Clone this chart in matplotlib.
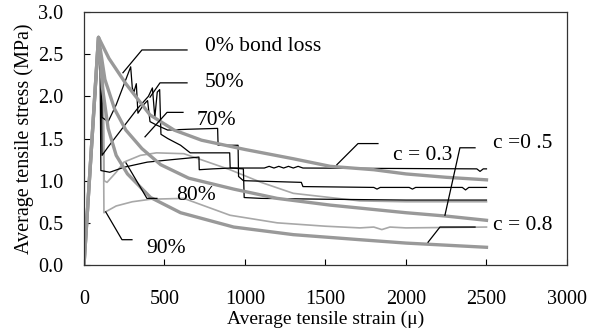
import matplotlib
matplotlib.use("Agg")
import matplotlib.pyplot as plt

plt.rcParams['font.family'] = ['Liberation Serif', 'DejaVu Serif']

# model curves (thick grey), c = 0.3 / 0.5 / 0.8
c03_strain = [0, 90, 155, 260, 410, 560, 730, 1000, 1300, 1530, 1800, 2000, 2250, 2500]
c03_stress = [0, 2.70, 2.45, 2.15, 1.78, 1.60, 1.48, 1.37, 1.26, 1.17, 1.13, 1.08, 1.04, 1.01]
c05_strain = [0, 90, 130, 190, 260, 360, 476, 650, 930, 1200, 1530, 2000, 2250, 2500]
c05_stress = [0, 2.70, 2.20, 1.85, 1.60, 1.38, 1.19, 1.03, 0.90, 0.79, 0.71, 0.62, 0.58, 0.53]
c08_strain = [0, 90, 115, 150, 200, 270, 414, 600, 930, 1300, 1714, 2000, 2500]
c08_stress = [0, 2.70, 2.10, 1.62, 1.30, 1.08, 0.80, 0.62, 0.45, 0.36, 0.30, 0.26, 0.21]

# analysis, 0 / 50 / 70 % bond loss (thin black)
b00_strain = [0, 90, 105, 112, 150, 200, 250, 290, 300, 310, 325, 335, 370, 395, 410, 450,
              520, 650, 830, 833, 957, 960, 990, 1350, 1360, 1800, 1820, 1840, 2020, 2040,
              2060, 2350, 2370, 2390, 2500]
b00_stress = [0, 2.65, 2.55, 1.75, 1.70, 1.90, 2.15, 2.35, 2.10, 2.05, 2.15, 1.80, 1.90, 1.95, 1.70, 1.66,
              1.60, 1.61, 1.62, 1.42, 1.42, 1.05, 1.00, 0.98, 0.93, 0.92, 0.90, 0.92, 0.92, 0.90,
              0.92, 0.92, 0.89, 0.92, 0.92]
b50_strain = [0, 90, 108, 112, 150, 250, 330, 400, 425, 440, 455, 470, 478, 520, 600, 660, 905, 908,
              1000, 1120, 1150, 1180, 1210, 1240, 1270, 1300, 1330, 1360, 2440, 2460, 2480, 2500]
b50_stress = [0, 2.60, 2.40, 1.30, 1.40, 1.65, 1.85, 2.00, 2.10, 1.75, 2.05, 2.08, 1.55, 1.50, 1.42, 1.33, 1.33, 1.15,
              1.15, 1.15, 1.17, 1.15, 1.17, 1.15, 1.17, 1.15, 1.17, 1.15, 1.14, 1.11, 1.14, 1.14]
b70_strain = [0, 90, 100, 105, 160, 250, 393, 550, 714, 716, 800, 913, 990, 995, 1100, 1500, 2000, 2500]
b70_stress = [0, 2.55, 2.30, 1.12, 1.10, 1.16, 1.22, 1.25, 1.28, 1.13, 1.14, 1.15, 1.14, 0.80, 0.79, 0.78, 0.77, 0.77]

# analysis, 80 / 90 % bond loss (thin grey)
g80_strain = [0, 90, 120, 125, 143, 200, 248, 350, 450, 620, 907, 1100, 1300, 1714, 2000, 2250, 2500]
g80_stress = [0, 2.60, 2.30, 1.00, 0.98, 1.10, 1.22, 1.30, 1.33, 1.32, 1.13, 0.98, 0.85, 0.76, 0.75, 0.75, 0.75]
g90_strain = [0, 90, 118, 124, 200, 300, 414, 620, 907, 1200, 1500, 1714, 1800, 1850, 1900, 2000, 2500]
g90_stress = [0, 2.55, 2.20, 0.62, 0.70, 0.75, 0.78, 0.79, 0.59, 0.50, 0.46, 0.44, 0.45, 0.42, 0.45, 0.44, 0.45]

# labels: text, text position, leader path
labels = [
    ("0% bond loss", (752, 2.59), [(640, 2.55), (360, 2.55), (242, 2.28)]),
    ("50%", (752, 2.17), [(640, 2.16), (472, 2.16), (410, 1.99)]),
    ("70%", (702, 1.71), [(615, 1.81), (516, 1.81), (379, 1.52)]),
    ("80%", (571, 0.82), [(453, 0.79), (391, 0.79), (261, 1.21)]),
    ("90%", (385, 0.20), [(298, 0.30), (236, 0.30), (135, 0.63)]),
    ("c = 0.3", (1919, 1.30), [(1826, 1.44), (1702, 1.44), (1571, 1.19)]),
    ("c =0 .5", (2540, 1.44), [(2429, 1.39), (2335, 1.39), (2242, 0.59)]),
    ("c = 0.8", (2540, 0.47), [(2429, 0.45), (2211, 0.45), (2137, 0.27)]),
]

fig = plt.figure(figsize=(5.89, 3.32), dpi=100)
ax = fig.add_axes([0.1426, 0.2018, 0.82, 0.762])

thin_grey = '#a8a8a8'
thick_grey = '#999999'
ax.plot(g80_strain, g80_stress, color=thin_grey, lw=1.2)
ax.plot(g90_strain, g90_stress, color=thin_grey, lw=1.2)
for s, t in [(b00_strain, b00_stress), (b50_strain, b50_stress), (b70_strain, b70_stress)]:
    ax.plot(s, t, color='black', lw=0.9)
for s, t in [(c03_strain, c03_stress), (c05_strain, c05_stress), (c08_strain, c08_stress)]:
    ax.plot(s, t, color=thick_grey, lw=2.4)

for text, pos, path in labels:
    ax.plot([p[0] for p in path], [p[1] for p in path], color='black', lw=0.9)
    ax.text(pos[0], pos[1], text, fontsize=15.5, ha='left', va='center')

ax.set_xlim(0, 3000)
ax.set_ylim(0, 3.0)
ax.set_xticks([0, 500, 1000, 1500, 2000, 2500, 3000])
ax.set_yticks([0.0, 0.5, 1.0, 1.5, 2.0, 2.5, 3.0])
ax.set_yticklabels([f'{v:.1f}' for v in ax.get_yticks()])
ax.tick_params(direction='in', length=4, width=0.8, labelsize=14.5)
ax.tick_params(axis='x', pad=18)
ax.tick_params(axis='y', pad=15)
for sp in ax.spines.values():
    sp.set_color('#333333')
    sp.set_linewidth(0.9)

ax.set_xlabel('Average tensile strain (μ)', fontsize=14, labelpad=1)
ax.set_ylabel('Average tensile stress (MPa)', fontsize=14.5, labelpad=3)

fig.savefig('out.png', dpi=100)
